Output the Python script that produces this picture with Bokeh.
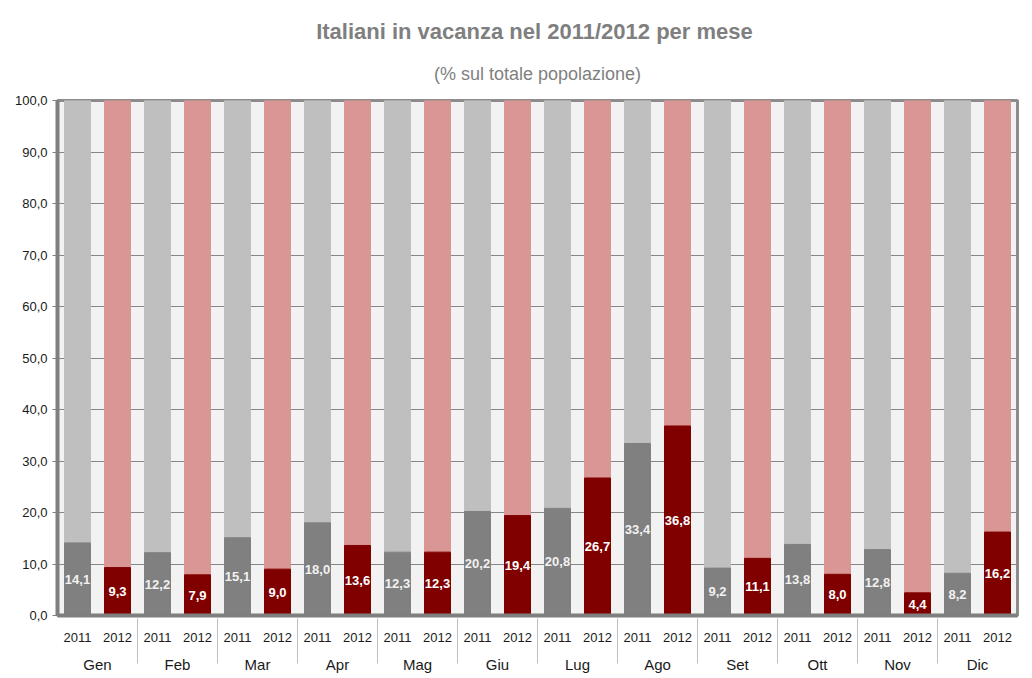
from bokeh.plotting import figure
from bokeh.models import (FactorRange, Range1d, ColumnDataSource, Title,
                          CustomJSTickFormatter, LabelSet, FixedTicker)
from bokeh.embed import file_html
from bokeh.resources import INLINE
from bokeh.core.properties import value

# ---- data ----
months = ["Gen", "Feb", "Mar", "Apr", "Mag", "Giu", "Lug", "Ago", "Set", "Ott", "Nov", "Dic"]
years = ["2011", "2012"]
v2011 = [14.1, 12.2, 15.1, 18.0, 12.3, 20.2, 20.8, 33.4, 9.2, 13.8, 12.8, 8.2]
v2012 = [9.3, 7.9, 9.0, 13.6, 12.3, 19.4, 26.7, 36.8, 11.1, 8.0, 4.4, 16.2]
total = 100.0
y_ticks = [0, 10, 20, 30, 40, 50, 60, 70, 80, 90, 100]
title_text = "Italiani in vacanza nel 2011/2012  per mese"
subtitle_text = "(% sul totale popolazione)"

FONT = "Liberation Sans"
bottom_col = {"2011": "#808080", "2012": "#800000"}
top_col = {"2011": "#BFBFBF", "2012": "#D99694"}
lab_col = {"2011": "#F2F2F2", "2012": "#FFFFFF"}

xs, vals = [], []
for m, a, b in zip(months, v2011, v2012):
    xs += [(m, "2011"), (m, "2012")]
    vals += [a, b]
yrs = [x[1] for x in xs]

src = ColumnDataSource(dict(
    x=xs,
    v=vals,
    total=[total] * len(vals),
    mid=[v / 2 for v in vals],
    txt=[("%.1f" % v).replace(".", ",") for v in vals],
    cb=[bottom_col[y] for y in yrs],
    ct=[top_col[y] for y in yrs],
    cl=[lab_col[y] for y in yrs],
))

p = figure(
    x_range=FactorRange(*xs, factor_padding=0, subgroup_padding=0, group_padding=0, range_padding=0),
    y_range=Range1d(0, 100),
    frame_width=960, frame_height=515,
    output_backend="svg", toolbar_location=None,
    min_border_left=57, min_border_right=4, min_border_top=100, min_border_bottom=58,
)
p.title = None

p.add_layout(Title(text=subtitle_text, align="center",
                   text_font=FONT, text_font_size="18px", text_font_style="normal",
                   text_color="#7F7F7F", standoff=34), "above")
p.add_layout(Title(text=title_text, align="center",
                   text_font=FONT, text_font_size="22px", text_font_style="bold",
                   text_color="#7F7F7F", standoff=2), "above")

p.vbar(x="x", bottom="v", top="total", width=0.65, color="ct", source=src)
p.vbar(x="x", top="v", bottom=0, width=0.65, color="cb", source=src)

p.add_layout(LabelSet(x="x", y="mid", text="txt", source=src,
                      text_align="center", text_baseline="middle",
                      text_font=value(FONT), text_font_size="13px",
                      text_font_style="bold", text_color="cl"))

p.background_fill_color = "#F2F2F2"
p.border_fill_color = "white"
p.outline_line_color = "#8C8C8C"
p.outline_line_width = 3

p.xgrid.grid_line_color = None
p.ygrid.grid_line_color = "#868686"
p.ygrid.grid_line_width = 1

p.yaxis.ticker = FixedTicker(ticks=y_ticks)
p.yaxis.formatter = CustomJSTickFormatter(code="return tick.toFixed(1).replace('.', ',');")
p.yaxis.axis_line_color = "#7F7F7F"
p.yaxis.axis_line_width = 4
p.yaxis.major_tick_line_color = "#7F7F7F"
p.yaxis.major_tick_out = 5
p.yaxis.major_tick_in = 0
p.yaxis.minor_tick_line_color = None
p.yaxis.major_label_text_font = FONT
p.yaxis.major_label_text_font_size = "13px"
p.yaxis.major_label_text_color = "#1A1A1A"
p.yaxis.major_label_standoff = 5

p.xaxis.axis_line_color = "#7F7F7F"
p.xaxis.axis_line_width = 4
p.xaxis.major_tick_line_color = None
p.xaxis.minor_tick_line_color = None
p.xaxis.major_label_text_font = FONT
p.xaxis.major_label_text_font_size = "13px"
p.xaxis.major_label_text_color = "#1A1A1A"
p.xaxis.group_text_font = FONT
p.xaxis.group_text_font_size = "15px"
p.xaxis.group_text_font_style = "normal"
p.xaxis.group_text_color = "#1A1A1A"
p.xaxis.separator_line_color = "#BFBFBF"
p.xaxis.separator_line_width = 1
p.xaxis.major_label_standoff = 11

p.styles = {"box-shadow": "-1px -1px 0 #A6A6A6"}

open("out.html", "w").write(file_html(p, INLINE))
